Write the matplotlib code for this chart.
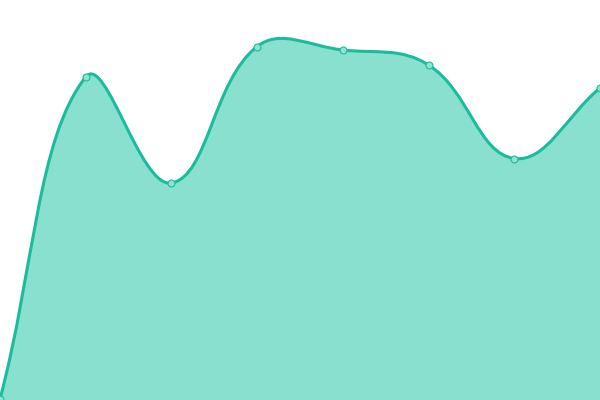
import numpy as np
import matplotlib
matplotlib.use("Agg")
import matplotlib.pyplot as plt
from matplotlib.path import Path
from matplotlib.patches import PathPatch

# data
labels = ["A", "B", "C", "D", "E", "F", "G", "H"]
values = [1, 323, 217, 353.5, 350, 335, 241.5, 312]

line_color = "#1abc9c"
fill_color = "#89e0cf"
point_color = "#8fe3d1"
tension = 0.4

fig = plt.figure(figsize=(6, 4), dpi=100)
ax = fig.add_axes([0, 0, 1, 1])
ax.set_xlim(0, len(values) - 1)
ax.set_ylim(0, 400)
ax.axis("off")

x = np.arange(len(values))
pts = ax.transData.transform(np.column_stack([x, values]))

# chart.js style spline control points, worked out in pixel space
n = len(pts)
cp_prev = pts.copy()
cp_next = pts.copy()
for i in range(n):
    prev = pts[i - 1] if i > 0 else pts[i]
    cur = pts[i]
    nxt = pts[i + 1] if i < n - 1 else pts[i]
    d01 = np.hypot(*(cur - prev))
    d12 = np.hypot(*(nxt - cur))
    s01 = d01 / (d01 + d12) if d01 + d12 else 0
    s12 = d12 / (d01 + d12) if d01 + d12 else 0
    fa = tension * s01
    fb = tension * s12
    cp_prev[i] = cur - fa * (nxt - prev)
    cp_next[i] = cur + fb * (nxt - prev)

verts = [pts[0]]
codes = [Path.MOVETO]
for i in range(n - 1):
    verts += [cp_next[i], cp_prev[i + 1], pts[i + 1]]
    codes += [Path.CURVE4] * 3

inv = ax.transData.inverted()
verts_d = inv.transform(np.array(verts))

curve = Path(verts_d, codes)
base = ax.transData.transform([[x[-1], 0], [x[0], 0]])
fill_verts = np.vstack([verts_d, inv.transform(base), verts_d[:1]])
fill_codes = codes + [Path.LINETO, Path.LINETO, Path.CLOSEPOLY]
ax.add_patch(PathPatch(Path(fill_verts, fill_codes), facecolor=fill_color,
                       edgecolor="none", zorder=1))
ax.add_patch(PathPatch(curve, facecolor="none", edgecolor=line_color,
                       lw=2.2, zorder=2, clip_on=False))
ax.plot(x, values, "o", ms=5, mfc=point_color, mec=line_color, mew=0.8,
        zorder=3, clip_on=False)

fig.savefig("out.png", dpi=100)
